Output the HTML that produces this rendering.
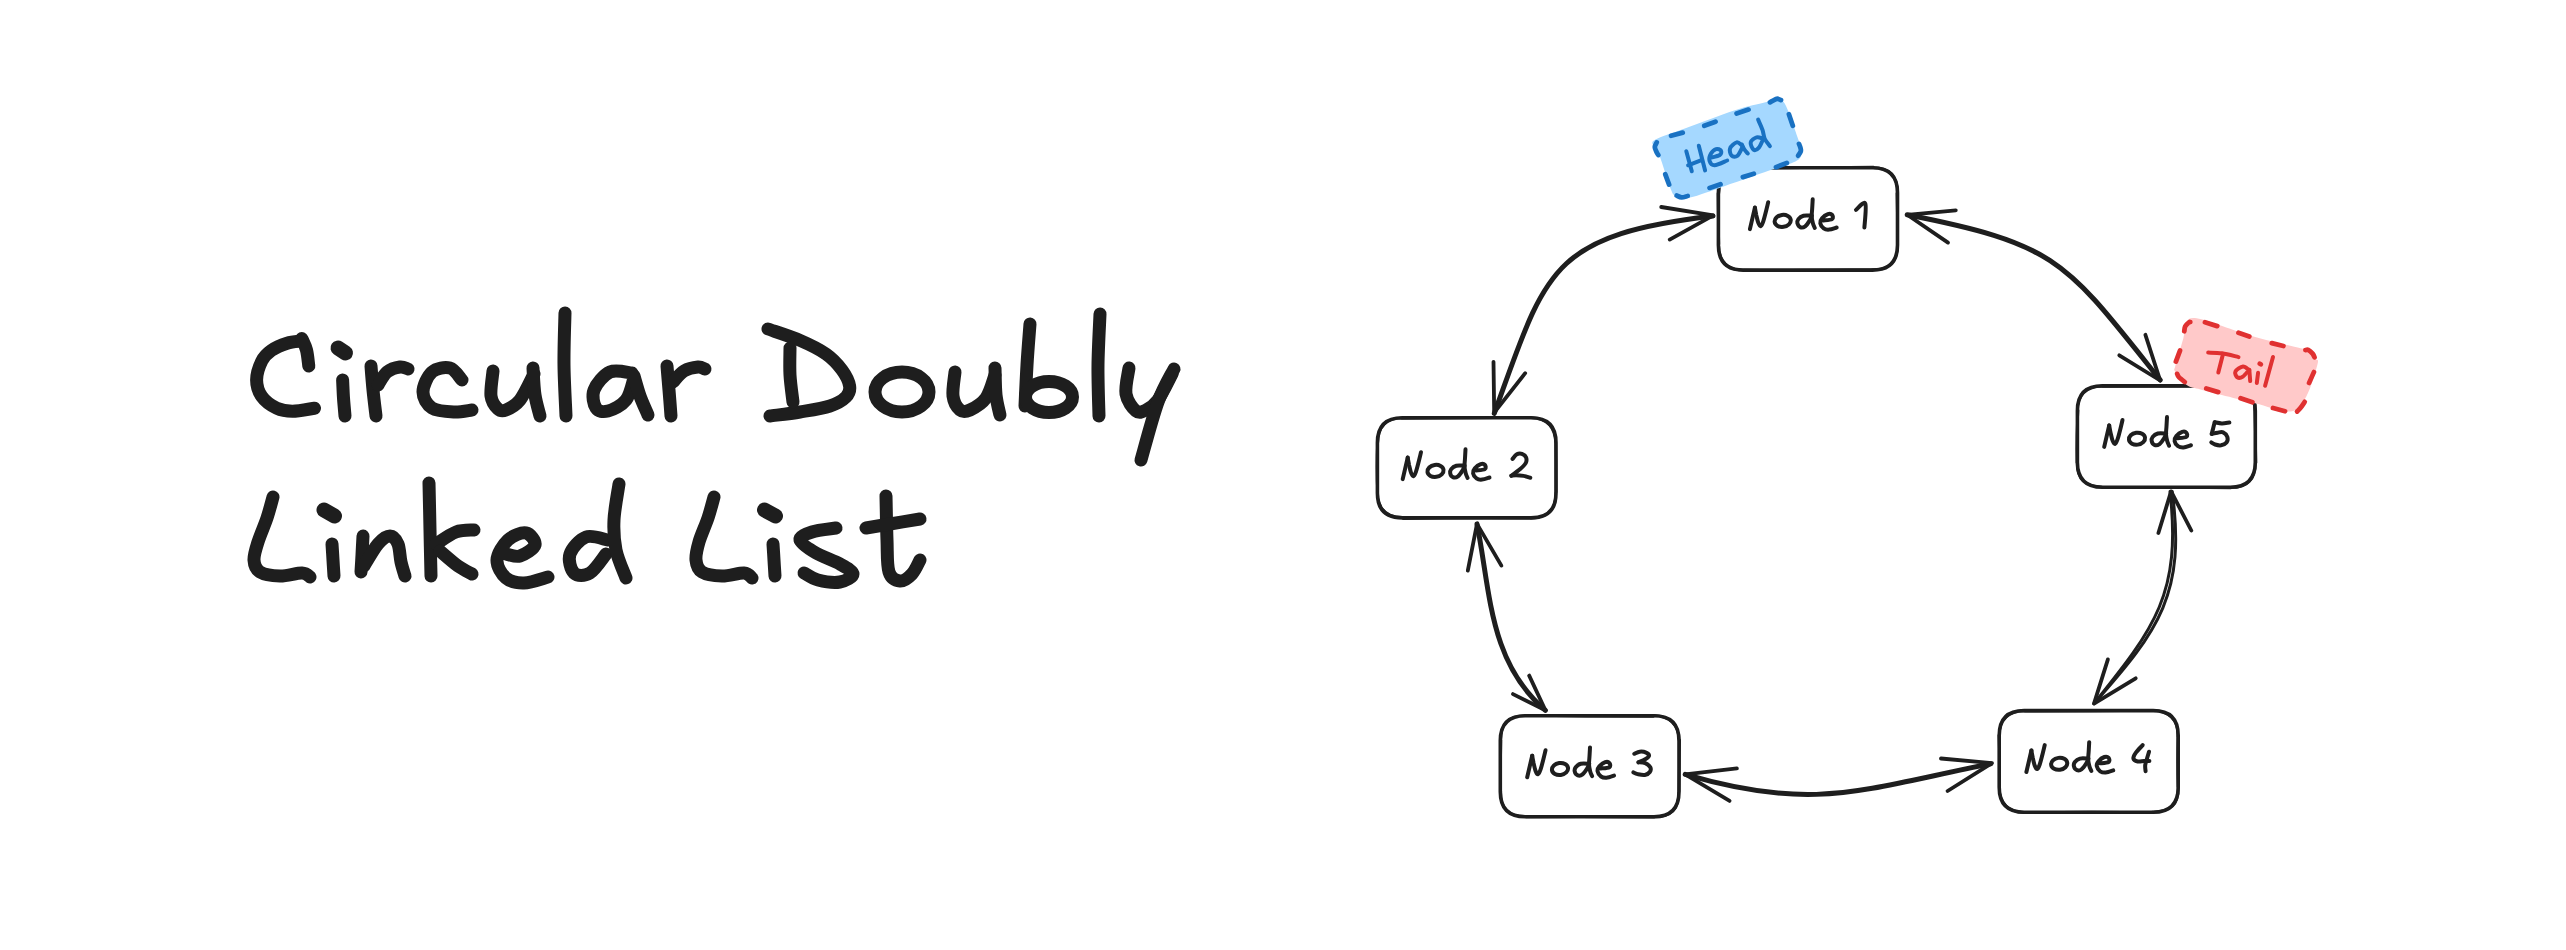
<!DOCTYPE html>
<html><head><meta charset="utf-8"><title>Circular Doubly Linked List</title>
<style>
html,body{margin:0;padding:0;background:#ffffff;}
body{width:2566px;height:950px;overflow:hidden;font-family:"Liberation Sans",sans-serif;}
svg{display:block;}
</style></head><body>
<svg width="2566" height="950" viewBox="0 0 2566 950" fill="none" stroke-linecap="round" stroke-linejoin="round">
<rect x="0" y="0" width="2566" height="950" fill="#ffffff"/>
<path d="M301.8,341.0 C299.4,341.4 292.2,341.6 287.1,343.2 C282.0,344.8 275.5,347.5 271.3,350.5 C267.1,353.5 264.2,356.1 261.8,361.0 C259.4,365.9 256.6,374.1 256.6,380.0 C256.6,385.9 258.5,391.9 261.8,396.6 C265.1,401.3 271.5,405.8 276.6,408.2 C281.7,410.6 286.1,411.3 292.4,411.3 C298.7,411.3 310.8,408.7 314.5,408.2" stroke="#1e1e1e" stroke-width="13.00" />
<path d="M301.8,338.5 C302.6,340.4 305.3,345.4 306.5,350.0 C307.7,354.6 308.4,363.3 308.8,366.0" stroke="#1e1e1e" stroke-width="13.00" />
<path d="M342.6,380.0 C342.8,383.0 343.1,392.0 343.5,398.0 C343.9,404.0 344.8,413.0 345.0,416.0" stroke="#1e1e1e" stroke-width="13.00" />
<path d="M371.0,366.0 C371.3,370.0 372.2,381.7 373.0,390.0 C373.8,398.3 375.5,411.7 376.0,416.0" stroke="#1e1e1e" stroke-width="13.00" />
<path d="M378.0,385.0 C379.5,382.8 383.3,375.0 387.0,372.0 C390.7,369.0 396.5,367.5 400.0,367.0 C403.5,366.5 406.7,368.7 408.0,369.0" stroke="#1e1e1e" stroke-width="13.00" />
<path d="M462.0,380.0 C460.0,378.0 455.0,369.3 450.0,368.0 C445.0,366.7 436.5,368.0 432.0,372.0 C427.5,376.0 423.0,386.0 423.0,392.0 C423.0,398.0 426.8,404.7 432.0,408.0 C437.2,411.3 447.3,411.7 454.0,412.0 C460.7,412.3 469.0,410.3 472.0,410.0" stroke="#1e1e1e" stroke-width="13.00" />
<path d="M493.0,371.0 C492.7,375.2 490.2,389.7 491.0,396.0 C491.8,402.3 495.5,406.7 498.0,409.0 C500.5,411.3 502.3,411.5 506.0,410.0 C509.7,408.5 515.3,406.0 520.0,400.0 C524.7,394.0 531.7,378.3 534.0,374.0" stroke="#1e1e1e" stroke-width="13.00" />
<path d="M533.0,368.0 C533.3,372.5 533.8,387.0 535.0,395.0 C536.2,403.0 539.2,412.5 540.0,416.0" stroke="#1e1e1e" stroke-width="13.00" />
<path d="M565.0,313.0 C564.8,321.7 563.8,347.8 564.0,365.0 C564.2,382.2 565.7,407.5 566.0,416.0" stroke="#1e1e1e" stroke-width="13.00" />
<path d="M632.0,373.0 C628.3,372.8 616.3,369.2 610.0,372.0 C603.7,374.8 596.3,384.0 594.0,390.0 C591.7,396.0 593.7,404.5 596.0,408.0 C598.3,411.5 603.0,412.3 608.0,411.0 C613.0,409.7 621.7,405.5 626.0,400.0 C630.3,394.5 632.7,381.7 634.0,378.0" stroke="#1e1e1e" stroke-width="13.00" />
<path d="M634.0,376.0 C635.0,379.3 637.7,389.5 640.0,396.0 C642.3,402.5 646.7,411.8 648.0,415.0" stroke="#1e1e1e" stroke-width="13.00" />
<path d="M667.0,366.0 C667.3,370.0 668.3,381.7 669.0,390.0 C669.7,398.3 670.7,411.7 671.0,416.0" stroke="#1e1e1e" stroke-width="13.00" />
<path d="M673.0,382.0 C674.8,380.2 679.8,373.5 684.0,371.0 C688.2,368.5 694.5,367.3 698.0,367.0 C701.5,366.7 703.8,368.7 705.0,369.0" stroke="#1e1e1e" stroke-width="13.00" />
<path d="M768.0,329.0 C773.3,330.9 790.3,336.2 800.0,340.4 C809.7,344.6 819.0,349.1 826.0,354.0 C833.0,358.9 838.1,364.7 842.0,370.0 C845.9,375.3 848.9,381.5 849.6,386.0 C850.3,390.5 849.3,393.7 846.0,397.0 C842.7,400.3 837.7,403.5 830.0,406.0 C822.3,408.5 810.0,410.3 800.0,412.0 C790.0,413.7 775.0,415.3 770.0,416.0" stroke="#1e1e1e" stroke-width="13.00" />
<path d="M790.0,348.0 C790.0,352.5 789.5,366.0 790.0,375.0 C790.5,384.0 792.5,397.5 793.0,402.0" stroke="#1e1e1e" stroke-width="13.00" />
<path d="M955.0,372.0 C954.7,376.0 952.2,389.7 953.0,396.0 C953.8,402.3 957.2,407.7 960.0,410.0 C962.8,412.3 965.7,412.0 970.0,410.0 C974.3,408.0 981.8,403.8 986.0,398.0 C990.2,392.2 993.5,378.8 995.0,375.0" stroke="#1e1e1e" stroke-width="13.00" />
<path d="M995.0,368.0 C995.2,372.5 995.2,387.2 996.0,395.0 C996.8,402.8 999.3,411.7 1000.0,415.0" stroke="#1e1e1e" stroke-width="13.00" />
<path d="M1030.0,324.0 C1029.5,330.8 1027.8,351.3 1027.0,365.0 C1026.2,378.7 1025.3,399.2 1025.0,406.0" stroke="#1e1e1e" stroke-width="13.00" />
<path d="M1100.0,314.0 C1099.7,322.5 1098.2,348.0 1098.0,365.0 C1097.8,382.0 1098.8,407.5 1099.0,416.0" stroke="#1e1e1e" stroke-width="13.00" />
<path d="M1129.0,368.0 C1128.5,372.3 1124.8,386.8 1126.0,394.0 C1127.2,401.2 1132.7,408.3 1136.0,411.0 C1139.3,413.7 1142.3,411.8 1146.0,410.0 C1149.7,408.2 1153.7,406.0 1158.0,400.0 C1162.3,394.0 1169.7,378.3 1172.0,374.0" stroke="#1e1e1e" stroke-width="13.00" />
<path d="M1174.0,369.0 C1171.3,374.5 1163.5,386.8 1158.0,402.0 C1152.5,417.2 1143.8,450.3 1141.0,460.0" stroke="#1e1e1e" stroke-width="13.00" />
<path d="M273.0,497.0 C272.0,500.5 269.5,510.5 267.0,518.0 C264.5,525.5 260.2,535.0 258.0,542.0 C255.8,549.0 253.7,555.0 254.0,560.0 C254.3,565.0 255.7,569.3 260.0,572.0 C264.3,574.7 273.0,575.8 280.0,576.0 C287.0,576.2 297.0,572.8 302.0,573.0 C307.0,573.2 308.7,576.3 310.0,577.0" stroke="#1e1e1e" stroke-width="13.00" />
<path d="M332.0,544.0 C332.2,546.7 332.7,554.7 333.0,560.0 C333.3,565.3 333.8,573.3 334.0,576.0" stroke="#1e1e1e" stroke-width="13.00" />
<path d="M363.0,536.0 C362.8,539.2 362.3,549.0 362.0,555.0 C361.7,561.0 361.2,569.2 361.0,572.0" stroke="#1e1e1e" stroke-width="13.00" />
<path d="M364.0,566.0 C366.3,562.3 373.7,549.0 378.0,544.0 C382.3,539.0 386.7,536.0 390.0,536.0 C393.3,536.0 396.2,539.7 398.0,544.0 C399.8,548.3 399.8,556.7 401.0,562.0 C402.2,567.3 404.3,573.7 405.0,576.0" stroke="#1e1e1e" stroke-width="13.00" />
<path d="M429.0,483.0 C429.2,490.8 429.7,514.5 430.0,530.0 C430.3,545.5 430.8,568.3 431.0,576.0" stroke="#1e1e1e" stroke-width="13.00" />
<path d="M436.0,544.0 C439.3,542.0 449.7,534.3 456.0,532.0 C462.3,529.7 471.0,530.3 474.0,530.0" stroke="#1e1e1e" stroke-width="13.00" />
<path d="M440.0,551.0 C443.0,553.5 452.7,562.2 458.0,566.0 C463.3,569.8 469.7,572.7 472.0,574.0" stroke="#1e1e1e" stroke-width="13.00" />
<path d="M506.0,554.0 C508.3,554.3 515.2,557.5 520.0,556.0 C524.8,554.5 534.0,548.8 535.0,545.0 C536.0,541.2 530.5,533.8 526.0,533.0 C521.5,532.2 512.8,535.5 508.0,540.0 C503.2,544.5 497.3,553.7 497.0,560.0 C496.7,566.3 501.5,574.2 506.0,578.0 C510.5,581.8 517.0,583.2 524.0,583.0 C531.0,582.8 544.0,578.0 548.0,577.0" stroke="#1e1e1e" stroke-width="13.00" />
<path d="M608.0,540.0 C604.3,539.5 592.3,534.7 586.0,537.0 C579.7,539.3 572.0,548.0 570.0,554.0 C568.0,560.0 570.7,569.8 574.0,573.0 C577.3,576.2 584.7,576.2 590.0,573.0 C595.3,569.8 603.3,557.2 606.0,554.0" stroke="#1e1e1e" stroke-width="13.00" />
<path d="M619.0,484.0 C618.2,490.0 614.5,509.0 614.0,520.0 C613.5,531.0 614.0,540.3 616.0,550.0 C618.0,559.7 624.3,573.3 626.0,578.0" stroke="#1e1e1e" stroke-width="13.00" />
<path d="M714.0,497.0 C713.0,500.5 710.5,510.5 708.0,518.0 C705.5,525.5 701.0,535.0 699.0,542.0 C697.0,549.0 695.5,555.0 696.0,560.0 C696.5,565.0 697.7,569.3 702.0,572.0 C706.3,574.7 715.0,575.8 722.0,576.0 C729.0,576.2 739.0,572.7 744.0,573.0 C749.0,573.3 750.7,577.2 752.0,578.0" stroke="#1e1e1e" stroke-width="13.00" />
<path d="M773.0,544.0 C773.2,546.7 773.7,554.7 774.0,560.0 C774.3,565.3 774.8,573.3 775.0,576.0" stroke="#1e1e1e" stroke-width="13.00" />
<path d="M836.0,528.0 C832.0,528.7 818.0,530.0 812.0,532.0 C806.0,534.0 799.3,536.5 800.0,540.0 C800.7,543.5 809.3,549.0 816.0,553.0 C822.7,557.0 833.8,560.5 840.0,564.0 C846.2,567.5 853.0,571.0 853.0,574.0 C853.0,577.0 845.8,581.0 840.0,582.0 C834.2,583.0 824.0,581.5 818.0,580.0 C812.0,578.5 806.3,574.2 804.0,573.0" stroke="#1e1e1e" stroke-width="13.00" />
<path d="M886.0,496.0 C886.2,503.3 886.5,527.3 887.0,540.0 C887.5,552.7 886.8,565.2 889.0,572.0 C891.2,578.8 896.2,580.7 900.0,581.0 C903.8,581.3 908.7,577.5 912.0,574.0 C915.3,570.5 918.7,562.3 920.0,560.0" stroke="#1e1e1e" stroke-width="13.00" />
<path d="M866.0,528.0 C870.0,527.3 881.0,525.5 890.0,524.0 C899.0,522.5 915.0,519.8 920.0,519.0" stroke="#1e1e1e" stroke-width="13.00" />
<ellipse cx="902.0" cy="392.0" rx="27.0" ry="20.0" fill="none" stroke="#1e1e1e" stroke-width="13.00" transform="rotate(0.0 902.0 392.0)"/>
<ellipse cx="1049.0" cy="397.0" rx="23.5" ry="15.5" fill="none" stroke="#1e1e1e" stroke-width="13.00" transform="rotate(0.0 1049.0 397.0)"/>
<path d="M338.0,348.0 L345.5,353.0" stroke="#1e1e1e" stroke-width="15.00" />
<path d="M324.0,510.0 L334.5,516.0" stroke="#1e1e1e" stroke-width="15.00" />
<path d="M764.5,510.0 L775.5,516.0" stroke="#1e1e1e" stroke-width="15.00" />
<path d="M1743.4,167.7 L1872.5,167.7 Q1897.5,167.7 1897.5,192.7 L1897.5,245.1 Q1897.5,270.1 1872.5,270.1 L1743.4,270.1 Q1718.4,270.1 1718.4,245.1 L1718.4,192.7 Q1718.4,167.7 1743.4,167.7 Z" fill="none" stroke="#1e1e1e" stroke-width="3.6"/>
<path d="M1743.7,168.4 Q1810.3,167.6 1873.4,167.0 M1873.2,167.6 Q1897.6,167.8 1897.6,193.3 M1896.9,193.2 Q1897.6,220.5 1897.7,244.6 M1897.5,244.8 Q1898.1,270.1 1872.1,269.5 M1872.9,269.5 Q1808.0,270.6 1743.9,270.0 M1744.1,270.3 Q1718.7,270.0 1718.7,244.9 M1718.9,244.3 Q1718.2,217.0 1718.0,193.4 M1718.9,193.2 Q1718.8,166.9 1742.6,168.1" fill="none" stroke="#1e1e1e" stroke-width="2.6"/>
<path d="M1749.9,229.1 L1754.9,207.6" stroke="#1e1e1e" stroke-width="4.00" />
<path d="M1754.9,207.6 C1755.1,208.8 1755.8,212.6 1756.3,215.1 C1756.9,217.6 1757.5,220.8 1758.2,222.6 C1758.9,224.4 1759.8,226.4 1760.6,226.2 C1761.4,226.0 1762.3,224.2 1763.2,221.6 C1764.1,219.0 1765.4,213.8 1766.2,210.6 C1767.0,207.4 1767.9,203.6 1768.2,202.2" stroke="#1e1e1e" stroke-width="4.00" />
<path d="M1811.9,215.7 C1810.5,215.7 1805.8,215.1 1803.5,215.7 C1801.2,216.3 1799.4,217.8 1798.4,219.1 C1797.4,220.4 1797.1,221.9 1797.4,223.3 C1797.8,224.7 1799.2,226.8 1800.5,227.3 C1801.8,227.8 1803.7,227.4 1805.2,226.3 C1806.8,225.1 1808.7,222.2 1809.8,220.4 C1810.9,218.6 1811.6,216.5 1811.9,215.7" stroke="#1e1e1e" stroke-width="4.00" />
<path d="M1812.7,199.3 C1812.6,201.0 1812.3,206.9 1812.1,209.8 C1811.9,212.7 1811.6,214.3 1811.7,216.6 C1811.8,218.8 1812.4,221.4 1812.9,223.3 C1813.4,225.2 1814.5,227.2 1814.8,228.0" stroke="#1e1e1e" stroke-width="4.00" />
<path d="M1823.3,220.4 C1824.8,220.2 1830.6,220.0 1832.1,219.1 C1833.6,218.2 1832.8,215.7 1832.1,214.9 C1831.4,214.1 1829.6,213.5 1827.9,214.1 C1826.2,214.7 1823.3,216.8 1822.0,218.3 C1820.7,219.8 1820.0,221.6 1820.3,223.3 C1820.6,225.0 1822.2,227.3 1823.7,228.4 C1825.2,229.5 1827.0,229.8 1829.2,229.6 C1831.4,229.4 1835.5,227.8 1836.7,227.5" stroke="#1e1e1e" stroke-width="4.00" />
<path d="M1856.0,209.8 C1857.5,208.8 1863.9,200.6 1865.3,203.5 C1866.7,206.4 1864.6,223.5 1864.4,227.5" stroke="#1e1e1e" stroke-width="4.00" /><ellipse cx="1782.7" cy="220.9" rx="8.1" ry="6.0" fill="none" stroke="#1e1e1e" stroke-width="4.00" transform="rotate(-8.0 1782.7 220.9)"/>
<path d="M1402.4,417.7 L1531.0,417.7 Q1556.0,417.7 1556.0,442.7 L1556.0,492.9 Q1556.0,517.9 1531.0,517.9 L1402.4,517.9 Q1377.4,517.9 1377.4,492.9 L1377.4,442.7 Q1377.4,417.7 1402.4,417.7 Z" fill="none" stroke="#1e1e1e" stroke-width="3.6"/>
<path d="M1401.7,418.4 Q1467.6,417.8 1530.4,417.4 M1530.9,417.6 Q1555.0,418.5 1555.7,443.7 M1555.7,442.8 Q1556.2,465.3 1556.1,492.1 M1555.7,492.7 Q1556.8,517.2 1530.8,518.3 M1531.5,517.9 Q1465.0,517.2 1403.3,518.6 M1402.1,517.4 Q1377.7,516.8 1377.5,492.0 M1377.7,493.6 Q1376.2,470.1 1377.5,442.9 M1377.7,443.7 Q1378.4,417.7 1401.8,418.0" fill="none" stroke="#1e1e1e" stroke-width="2.6"/>
<path d="M1402.7,479.1 L1407.7,457.6" stroke="#1e1e1e" stroke-width="4.00" />
<path d="M1407.7,457.6 C1407.9,458.9 1408.6,462.6 1409.1,465.1 C1409.7,467.6 1410.3,470.8 1411.0,472.6 C1411.7,474.5 1412.6,476.4 1413.4,476.2 C1414.2,476.0 1415.1,474.2 1416.0,471.6 C1416.9,469.0 1418.2,463.8 1419.0,460.6 C1419.8,457.4 1420.7,453.6 1421.0,452.2" stroke="#1e1e1e" stroke-width="4.00" />
<path d="M1464.7,465.7 C1463.3,465.7 1458.5,465.1 1456.3,465.7 C1454.0,466.3 1452.2,467.8 1451.2,469.1 C1450.2,470.4 1449.9,471.9 1450.2,473.3 C1450.5,474.7 1452.0,476.8 1453.3,477.3 C1454.6,477.8 1456.5,477.4 1458.0,476.3 C1459.5,475.2 1461.5,472.2 1462.6,470.4 C1463.7,468.6 1464.4,466.5 1464.7,465.7" stroke="#1e1e1e" stroke-width="4.00" />
<path d="M1465.5,449.3 C1465.4,451.1 1465.1,456.9 1464.9,459.8 C1464.7,462.7 1464.4,464.4 1464.5,466.6 C1464.6,468.9 1465.2,471.4 1465.7,473.3 C1466.2,475.2 1467.3,477.2 1467.6,478.0" stroke="#1e1e1e" stroke-width="4.00" />
<path d="M1476.1,470.4 C1477.6,470.2 1483.4,470.0 1484.9,469.1 C1486.4,468.2 1485.6,465.7 1484.9,464.9 C1484.2,464.1 1482.4,463.5 1480.7,464.1 C1479.0,464.7 1476.1,466.8 1474.8,468.3 C1473.5,469.8 1472.8,471.6 1473.1,473.3 C1473.4,475.0 1475.0,477.4 1476.5,478.4 C1478.0,479.5 1479.8,479.8 1482.0,479.6 C1484.2,479.5 1488.2,477.9 1489.5,477.5" stroke="#1e1e1e" stroke-width="4.00" />
<path d="M1512.6,458.9 C1513.3,458.1 1515.2,455.2 1516.8,454.3 C1518.3,453.4 1520.4,453.2 1521.9,453.8 C1523.5,454.4 1525.5,456.1 1526.1,457.6 C1526.7,459.2 1526.7,461.2 1525.7,463.1 C1524.7,465.0 1522.6,466.9 1520.2,469.0 C1517.8,471.1 1512.9,474.6 1511.4,475.7" stroke="#1e1e1e" stroke-width="4.00" />
<path d="M1511.4,475.7 C1512.2,475.6 1514.0,475.3 1516.0,475.3 C1518.0,475.3 1521.2,475.5 1523.6,475.9 C1526.0,476.3 1529.2,477.5 1530.3,477.8" stroke="#1e1e1e" stroke-width="4.00" /><ellipse cx="1435.5" cy="470.9" rx="8.1" ry="6.0" fill="none" stroke="#1e1e1e" stroke-width="4.00" transform="rotate(-8.0 1435.5 470.9)"/>
<path d="M1525.3,715.8 L1654.0,715.8 Q1679.0,715.8 1679.0,740.8 L1679.0,791.7 Q1679.0,816.7 1654.0,816.7 L1525.3,816.7 Q1500.3,816.7 1500.3,791.7 L1500.3,740.8 Q1500.3,715.8 1525.3,715.8 Z" fill="none" stroke="#1e1e1e" stroke-width="3.6"/>
<path d="M1525.2,715.2 Q1590.8,716.6 1653.4,716.5 M1653.1,715.3 Q1678.3,716.4 1679.2,740.5 M1679.7,740.0 Q1679.4,767.3 1678.9,791.2 M1678.6,792.5 Q1679.6,817.3 1653.4,816.9 M1654.5,817.1 Q1587.3,816.2 1526.1,816.9 M1525.6,816.3 Q1500.0,816.9 1500.8,791.4 M1500.3,791.9 Q1500.4,765.7 1501.0,740.4 M1500.7,740.1 Q1501.1,714.9 1524.8,715.7" fill="none" stroke="#1e1e1e" stroke-width="2.6"/>
<path d="M1527.2,777.2 L1532.2,755.7" stroke="#1e1e1e" stroke-width="4.00" />
<path d="M1532.2,755.7 C1532.4,757.0 1533.1,760.7 1533.6,763.2 C1534.2,765.7 1534.8,768.9 1535.5,770.7 C1536.2,772.6 1537.1,774.5 1537.9,774.3 C1538.7,774.1 1539.6,772.3 1540.5,769.7 C1541.4,767.1 1542.7,761.9 1543.5,758.7 C1544.3,755.5 1545.2,751.7 1545.5,750.3" stroke="#1e1e1e" stroke-width="4.00" />
<path d="M1589.2,763.8 C1587.8,763.8 1583.0,763.2 1580.8,763.8 C1578.5,764.4 1576.7,765.9 1575.7,767.2 C1574.7,768.5 1574.4,770.0 1574.7,771.4 C1575.0,772.8 1576.5,774.9 1577.8,775.4 C1579.1,775.9 1581.0,775.6 1582.5,774.4 C1584.0,773.3 1586.0,770.3 1587.1,768.5 C1588.2,766.7 1588.9,764.6 1589.2,763.8" stroke="#1e1e1e" stroke-width="4.00" />
<path d="M1590.0,747.4 C1589.9,749.2 1589.6,755.0 1589.4,757.9 C1589.2,760.8 1588.9,762.5 1589.0,764.7 C1589.1,767.0 1589.7,769.5 1590.2,771.4 C1590.7,773.3 1591.8,775.3 1592.1,776.1" stroke="#1e1e1e" stroke-width="4.00" />
<path d="M1600.6,768.5 C1602.1,768.3 1607.9,768.1 1609.4,767.2 C1610.9,766.3 1610.1,763.8 1609.4,763.0 C1608.7,762.2 1606.9,761.6 1605.2,762.2 C1603.5,762.8 1600.6,764.9 1599.3,766.4 C1598.0,767.9 1597.3,769.7 1597.6,771.4 C1597.9,773.1 1599.5,775.5 1601.0,776.5 C1602.5,777.5 1604.3,777.9 1606.5,777.7 C1608.7,777.6 1612.8,776.0 1614.0,775.6" stroke="#1e1e1e" stroke-width="4.00" />
<path d="M1634.3,753.8 C1635.2,753.5 1637.7,751.9 1639.7,751.7 C1641.7,751.5 1644.6,751.9 1646.1,752.6 C1647.7,753.3 1649.2,754.8 1649.0,755.9 C1648.8,757.0 1647.0,758.2 1645.2,759.3 C1643.5,760.4 1639.6,761.8 1638.5,762.3" stroke="#1e1e1e" stroke-width="4.00" />
<path d="M1638.5,762.3 C1639.6,762.4 1643.2,762.3 1645.2,763.1 C1647.2,763.9 1649.5,765.8 1650.3,767.3 C1651.1,768.8 1650.7,770.7 1649.8,772.0 C1648.9,773.3 1646.8,774.6 1644.8,774.9 C1642.8,775.3 1639.5,774.5 1637.6,774.1 C1635.7,773.7 1634.1,772.7 1633.4,772.4" stroke="#1e1e1e" stroke-width="4.00" /><ellipse cx="1560.0" cy="769.0" rx="8.1" ry="6.0" fill="none" stroke="#1e1e1e" stroke-width="4.00" transform="rotate(-8.0 1560.0 769.0)"/>
<path d="M2024.2,710.6 L2153.2,710.6 Q2178.2,710.6 2178.2,735.6 L2178.2,787.3 Q2178.2,812.3 2153.2,812.3 L2024.2,812.3 Q1999.2,812.3 1999.2,787.3 L1999.2,735.6 Q1999.2,710.6 2024.2,710.6 Z" fill="none" stroke="#1e1e1e" stroke-width="3.6"/>
<path d="M2024.8,711.2 Q2088.7,711.2 2153.3,710.4 M2153.0,710.2 Q2178.9,711.8 2177.7,736.4 M2177.9,736.2 Q2177.2,763.3 2178.0,787.0 M2178.4,788.2 Q2178.5,812.5 2152.4,812.0 M2153.2,812.7 Q2088.9,811.3 2024.8,812.8 M2024.6,812.6 Q1999.8,811.1 1999.4,787.9 M1999.7,787.4 Q1999.8,760.1 1998.9,735.2 M1999.3,735.9 Q1999.4,711.4 2024.3,710.7" fill="none" stroke="#1e1e1e" stroke-width="2.6"/>
<path d="M2026.4,772.0 L2031.4,750.5" stroke="#1e1e1e" stroke-width="4.00" />
<path d="M2031.4,750.5 C2031.6,751.8 2032.3,755.5 2032.8,758.0 C2033.4,760.5 2034.0,763.6 2034.7,765.5 C2035.4,767.4 2036.3,769.3 2037.1,769.1 C2037.9,768.9 2038.8,767.1 2039.7,764.5 C2040.6,761.9 2041.9,756.7 2042.7,753.5 C2043.5,750.3 2044.4,746.5 2044.7,745.1" stroke="#1e1e1e" stroke-width="4.00" />
<path d="M2088.4,758.6 C2087.0,758.6 2082.2,758.0 2080.0,758.6 C2077.8,759.2 2075.9,760.7 2074.9,762.0 C2073.9,763.3 2073.6,764.8 2073.9,766.2 C2074.2,767.6 2075.7,769.7 2077.0,770.2 C2078.3,770.7 2080.2,770.4 2081.7,769.2 C2083.3,768.1 2085.2,765.1 2086.3,763.3 C2087.4,761.5 2088.1,759.4 2088.4,758.6" stroke="#1e1e1e" stroke-width="4.00" />
<path d="M2089.2,742.2 C2089.1,744.0 2088.8,749.8 2088.6,752.7 C2088.4,755.6 2088.1,757.2 2088.2,759.5 C2088.3,761.8 2088.9,764.3 2089.4,766.2 C2089.9,768.1 2091.0,770.1 2091.3,770.9" stroke="#1e1e1e" stroke-width="4.00" />
<path d="M2099.8,763.3 C2101.3,763.1 2107.1,762.9 2108.6,762.0 C2110.1,761.1 2109.3,758.6 2108.6,757.8 C2107.9,757.0 2106.1,756.4 2104.4,757.0 C2102.7,757.6 2099.8,759.7 2098.5,761.2 C2097.2,762.7 2096.5,764.5 2096.8,766.2 C2097.1,767.9 2098.7,770.2 2100.2,771.3 C2101.7,772.3 2103.5,772.6 2105.7,772.5 C2107.9,772.4 2112.0,770.8 2113.2,770.4" stroke="#1e1e1e" stroke-width="4.00" />
<path d="M2142.7,745.1 C2141.6,746.4 2137.5,750.4 2135.9,752.6 C2134.3,754.8 2133.1,757.0 2133.4,758.5 C2133.7,760.0 2135.8,761.1 2137.6,761.5 C2139.3,761.9 2141.9,761.2 2143.9,761.1 C2145.9,761.0 2148.5,761.1 2149.4,761.1" stroke="#1e1e1e" stroke-width="4.00" />
<path d="M2149.0,751.8 C2148.7,753.0 2147.5,756.6 2146.9,758.9 C2146.3,761.1 2145.4,763.2 2145.2,765.3 C2145.0,767.3 2145.5,770.2 2145.6,771.2" stroke="#1e1e1e" stroke-width="4.00" /><ellipse cx="2059.2" cy="763.8" rx="8.1" ry="6.0" fill="none" stroke="#1e1e1e" stroke-width="4.00" transform="rotate(-8.0 2059.2 763.8)"/>
<path d="M2102.4,385.9 L2230.3,385.9 Q2255.3,385.9 2255.3,410.9 L2255.3,462.2 Q2255.3,487.2 2230.3,487.2 L2102.4,487.2 Q2077.4,487.2 2077.4,462.2 L2077.4,410.9 Q2077.4,385.9 2102.4,385.9 Z" fill="none" stroke="#1e1e1e" stroke-width="3.6"/>
<path d="M2102.6,386.5 Q2165.3,386.3 2230.5,386.0 M2230.4,385.6 Q2255.0,386.5 2254.7,411.5 M2254.7,411.0 Q2255.6,438.4 2256.0,462.7 M2255.5,463.0 Q2254.6,488.4 2231.1,487.5 M2230.7,487.9 Q2165.4,487.1 2102.2,487.4 M2101.7,487.0 Q2076.4,486.3 2077.1,462.2 M2076.9,462.8 Q2076.3,434.1 2078.1,410.3 M2077.6,410.0 Q2078.1,385.7 2103.0,386.0" fill="none" stroke="#1e1e1e" stroke-width="2.6"/>
<path d="M2104.2,446.9 L2109.2,425.4" stroke="#1e1e1e" stroke-width="4.00" />
<path d="M2109.2,425.4 C2109.4,426.6 2110.0,430.4 2110.6,432.9 C2111.2,435.4 2111.8,438.5 2112.5,440.4 C2113.2,442.2 2114.1,444.2 2114.9,444.0 C2115.7,443.8 2116.6,442.0 2117.5,439.4 C2118.4,436.8 2119.7,431.6 2120.5,428.4 C2121.3,425.2 2122.2,421.4 2122.5,420.0" stroke="#1e1e1e" stroke-width="4.00" />
<path d="M2166.2,433.5 C2164.8,433.5 2160.0,432.9 2157.8,433.5 C2155.5,434.1 2153.7,435.6 2152.7,436.9 C2151.7,438.2 2151.3,439.7 2151.7,441.1 C2152.0,442.5 2153.5,444.6 2154.8,445.1 C2156.1,445.6 2157.9,445.2 2159.5,444.1 C2161.1,442.9 2163.0,440.0 2164.1,438.2 C2165.2,436.4 2165.8,434.3 2166.2,433.5" stroke="#1e1e1e" stroke-width="4.00" />
<path d="M2167.0,417.1 C2166.9,418.8 2166.6,424.7 2166.4,427.6 C2166.2,430.5 2165.9,432.1 2166.0,434.4 C2166.1,436.6 2166.7,439.2 2167.2,441.1 C2167.7,443.0 2168.8,445.0 2169.1,445.8" stroke="#1e1e1e" stroke-width="4.00" />
<path d="M2177.6,438.2 C2179.1,438.0 2184.9,437.8 2186.4,436.9 C2187.9,436.0 2187.1,433.5 2186.4,432.7 C2185.7,431.9 2183.9,431.3 2182.2,431.9 C2180.5,432.5 2177.6,434.6 2176.3,436.1 C2175.0,437.6 2174.3,439.4 2174.6,441.1 C2174.9,442.8 2176.5,445.1 2178.0,446.2 C2179.5,447.2 2181.3,447.5 2183.5,447.4 C2185.7,447.2 2189.8,445.6 2191.0,445.3" stroke="#1e1e1e" stroke-width="4.00" />
<path d="M2229.4,422.6 C2228.1,422.7 2224.2,423.5 2221.8,423.4 C2219.3,423.3 2215.9,422.4 2214.7,422.2" stroke="#1e1e1e" stroke-width="4.00" />
<path d="M2214.7,422.2 C2214.4,423.3 2213.5,426.9 2213.0,428.9 C2212.5,430.8 2211.9,433.1 2211.7,433.9" stroke="#1e1e1e" stroke-width="4.00" />
<path d="M2211.7,433.9 C2212.7,433.7 2215.7,433.0 2217.6,432.7 C2219.5,432.4 2221.5,431.6 2223.1,432.3 C2224.7,433.0 2226.7,435.2 2227.3,436.9 C2227.9,438.6 2227.6,441.0 2226.5,442.4 C2225.4,443.8 2222.9,444.9 2221.0,445.3 C2219.1,445.6 2216.7,445.0 2215.1,444.5 C2213.5,444.0 2211.9,442.8 2211.3,442.4" stroke="#1e1e1e" stroke-width="4.00" /><ellipse cx="2137.0" cy="438.7" rx="8.1" ry="6.0" fill="none" stroke="#1e1e1e" stroke-width="4.00" transform="rotate(-8.0 2137.0 438.7)"/>
<path d="M1494.3,413.4 C1546.1,270.3 1548.9,235.6 1713.0,216.0" stroke="#1e1e1e" stroke-width="5.00"/>
<path d="M1493.5,361.9 L1494.2,412.7 L1525.2,373.2" stroke="#1e1e1e" stroke-width="3.80" stroke-linejoin="round"/>
<path d="M1661.2,207.0 L1713.3,215.4 L1669.7,239.6" stroke="#1e1e1e" stroke-width="3.80" stroke-linejoin="round"/>
<path d="M1907.2,214.8 C2059.1,244.7 2065.3,261.1 2160.2,380.0" stroke="#1e1e1e" stroke-width="5.00"/>
<path d="M1955.8,210.3 L1907.2,214.8 L1948.0,242.6" stroke="#1e1e1e" stroke-width="3.80" stroke-linejoin="round"/>
<path d="M2145.4,334.8 L2160.2,380.5 L2119.3,355.3" stroke="#1e1e1e" stroke-width="3.80" stroke-linejoin="round"/>
<path d="M2170.0,491.4 C2181.5,593.5 2155.0,627.5 2094.0,703.6" stroke="#1e1e1e" stroke-width="3.0"/>
<path d="M2172.2,491.4 C2185.9,593.5 2159.4,629.7 2094.0,703.6" stroke="#1e1e1e" stroke-width="3.0"/>
<path d="M2158.4,533.0 L2171.1,491.4 L2191.3,530.5" stroke="#1e1e1e" stroke-width="3.80" stroke-linejoin="round"/>
<path d="M2107.9,659.4 L2094.0,703.6 L2135.7,678.3" stroke="#1e1e1e" stroke-width="3.80" stroke-linejoin="round"/>
<path d="M1685.2,774.4 C1814.4,812.3 1860.6,789.7 1990.7,763.8" stroke="#1e1e1e" stroke-width="5.00"/>
<path d="M1736.9,768.4 L1685.2,774.4 L1729.6,800.9" stroke="#1e1e1e" stroke-width="3.80" stroke-linejoin="round"/>
<path d="M1941.0,758.5 L1992.0,763.1 L1947.6,791.0" stroke="#1e1e1e" stroke-width="3.80" stroke-linejoin="round"/>
<path d="M1477.0,523.9 C1490.5,591.5 1488.8,662.0 1545.4,710.3" stroke="#1e1e1e" stroke-width="5.00"/>
<path d="M1467.8,570.7 L1477.0,523.9 L1501.4,565.6" stroke="#1e1e1e" stroke-width="3.80" stroke-linejoin="round"/>
<path d="M1529.2,675.6 L1545.4,710.3 L1513.0,694.1" stroke="#1e1e1e" stroke-width="3.80" stroke-linejoin="round"/>
<path d="M1655.5,139.5 C1660.7,136.6 1671.5,133.4 1684.8,128.5 C1698.0,123.6 1721.6,114.6 1735.0,110.2 C1748.4,105.8 1758.3,104.2 1765.4,102.3 C1772.5,100.3 1774.1,97.9 1777.5,98.5 C1780.9,99.1 1782.7,99.5 1786.0,106.0 C1789.3,112.5 1795.0,130.1 1797.6,137.4 C1800.2,144.7 1801.6,146.2 1801.5,150.0 C1801.4,153.8 1802.4,157.1 1797.0,160.5 C1791.6,163.9 1781.2,166.3 1769.2,170.6 C1757.2,174.8 1738.2,181.5 1725.0,186.0 C1711.8,190.5 1698.2,195.9 1690.0,197.5 C1681.8,199.1 1679.2,196.9 1676.0,195.5 C1672.8,194.1 1673.5,195.8 1670.8,189.2 C1668.0,182.6 1662.4,162.9 1659.5,155.7 C1656.6,148.5 1654.2,148.7 1653.5,146.0 C1652.8,143.3 1650.3,142.4 1655.5,139.5 Z" fill="#a5d8ff" stroke="none"/>
<path d="M1656.7,142.5 C1656.3,143.3 1654.8,145.4 1654.8,147.0 C1654.8,148.6 1655.9,150.6 1656.5,152.0 C1657.1,153.4 1658.1,154.6 1658.4,155.1" stroke="#1971c2" stroke-width="4.80"/>
<path d="M1671.1,135.8 L1682.7,132.6" stroke="#1971c2" stroke-width="4.80"/>
<path d="M1704.3,125.8 L1715.5,121.7" stroke="#1971c2" stroke-width="4.80"/>
<path d="M1736.6,113.6 L1748.5,109.6" stroke="#1971c2" stroke-width="4.80"/>
<path d="M1770.0,102.3 C1771.1,101.7 1775.0,99.2 1776.8,98.8 C1778.6,98.4 1780.3,99.9 1781.0,100.1" stroke="#1971c2" stroke-width="4.80"/>
<path d="M1788.9,114.2 L1792.8,125.8" stroke="#1971c2" stroke-width="4.80"/>
<path d="M1799.0,143.9 C1799.3,144.6 1800.2,146.8 1800.5,148.0 C1800.8,149.2 1801.2,150.0 1800.8,151.3 C1800.4,152.6 1798.6,155.0 1798.1,155.7" stroke="#1971c2" stroke-width="4.80"/>
<path d="M1786.8,162.9 L1776.0,167.2" stroke="#1971c2" stroke-width="4.80"/>
<path d="M1753.8,173.8 L1742.9,177.1" stroke="#1971c2" stroke-width="4.80"/>
<path d="M1720.5,184.2 L1709.6,187.9" stroke="#1971c2" stroke-width="4.80"/>
<path d="M1687.7,196.0 C1686.6,196.2 1683.4,197.5 1681.6,197.4 C1679.8,197.3 1677.5,195.9 1676.7,195.6" stroke="#1971c2" stroke-width="4.80"/>
<path d="M1669.1,184.6 L1665.3,174.3" stroke="#1971c2" stroke-width="4.80"/>
<path d="M1686.3,151.3 L1691.8,171.2" stroke="#1971c2" stroke-width="4.00" />
<path d="M1698.8,145.7 L1705.1,170.4" stroke="#1971c2" stroke-width="4.00" />
<path d="M1688.1,165.3 L1701.4,160.1" stroke="#1971c2" stroke-width="4.00" />
<path d="M1710.2,157.9 C1711.8,157.4 1718.0,156.2 1719.8,155.0 C1721.6,153.8 1721.5,151.5 1720.9,150.5 C1720.3,149.5 1717.8,148.6 1716.1,149.1 C1714.4,149.6 1712.1,151.6 1711.0,153.5 C1709.9,155.4 1708.9,158.8 1709.5,160.8 C1710.1,162.8 1711.6,165.4 1714.6,165.3 C1717.5,165.2 1725.1,161.3 1727.2,160.5" stroke="#1971c2" stroke-width="4.00" />
<path d="M1741.9,145.4 C1741.0,144.9 1738.7,141.9 1736.7,142.4 C1734.7,142.9 1730.9,146.1 1730.1,148.3 C1729.2,150.5 1730.4,154.5 1731.6,155.7 C1732.8,156.9 1735.7,157.2 1737.5,155.7 C1739.3,154.2 1741.8,148.3 1742.6,146.8" stroke="#1971c2" stroke-width="4.00" />
<path d="M1741.9,144.6 C1742.3,145.3 1743.1,147.6 1744.1,149.1 C1745.1,150.6 1747.2,152.8 1747.8,153.5" stroke="#1971c2" stroke-width="4.00" />
<path d="M1763.3,138.7 C1762.2,138.5 1758.7,136.7 1756.6,137.3 C1754.5,137.9 1751.2,140.3 1750.7,142.4 C1750.2,144.5 1752.3,148.9 1753.7,149.8 C1755.1,150.7 1757.3,149.4 1758.9,147.6 C1760.5,145.8 1762.6,140.2 1763.3,138.7" stroke="#1971c2" stroke-width="4.00" />
<path d="M1758.1,119.6 C1758.8,121.3 1761.4,126.7 1762.5,129.9 C1763.6,133.1 1763.5,136.0 1764.7,138.7 C1765.9,141.4 1769.0,144.9 1769.9,146.1" stroke="#1971c2" stroke-width="4.00" />
<path d="M2183.3,338.4 C2185.1,331.8 2183.8,329.4 2186.0,326.0 C2188.2,322.6 2185.5,316.5 2196.6,318.2 C2207.7,319.9 2235.3,331.2 2252.6,336.2 C2269.9,341.2 2291.5,345.9 2300.6,348.2 C2309.7,350.5 2304.6,348.3 2307.0,350.0 C2309.4,351.7 2313.4,356.1 2315.2,358.5 C2316.9,360.9 2319.0,358.0 2317.5,364.3 C2316.0,370.6 2310.8,388.5 2306.3,396.4 C2301.8,404.3 2299.0,410.4 2290.5,411.5 C2282.0,412.6 2266.6,406.0 2255.2,403.3 C2243.8,400.6 2230.9,397.4 2221.8,395.1 C2212.7,392.8 2206.2,391.1 2200.4,389.4 C2194.6,387.7 2190.9,387.9 2186.7,385.0 C2182.5,382.1 2177.3,375.2 2175.4,372.0 C2173.5,368.8 2174.1,371.2 2175.4,365.6 C2176.7,360.0 2181.5,345.0 2183.3,338.4 Z" fill="#ffc9c9" stroke="none"/>
<path d="M2184.3,331.2 C2184.5,330.4 2184.4,327.9 2185.2,326.4 C2186.0,324.9 2188.1,323.0 2189.0,322.3 C2189.9,321.6 2190.1,322.1 2190.3,322.1" stroke="#e03131" stroke-width="4.80"/>
<path d="M2205.0,322.3 L2217.2,326.1" stroke="#e03131" stroke-width="4.80"/>
<path d="M2238.5,332.8 L2249.3,336.5" stroke="#e03131" stroke-width="4.80"/>
<path d="M2271.8,343.1 L2283.4,346.0" stroke="#e03131" stroke-width="4.80"/>
<path d="M2305.4,350.1 C2305.9,350.1 2307.0,349.2 2308.2,349.8 C2309.4,350.4 2311.5,352.3 2312.6,353.6 C2313.7,354.9 2314.2,356.7 2314.5,357.3" stroke="#e03131" stroke-width="4.80"/>
<path d="M2313.9,372.1 L2309.1,382.9" stroke="#e03131" stroke-width="4.80"/>
<path d="M2304.7,401.9 C2303.9,403.0 2301.3,407.0 2300.0,408.6 C2298.7,410.2 2297.6,411.0 2297.1,411.5" stroke="#e03131" stroke-width="4.80"/>
<path d="M2285.0,411.2 L2273.0,408.0" stroke="#e03131" stroke-width="4.80"/>
<path d="M2252.4,402.3 L2240.6,398.3" stroke="#e03131" stroke-width="4.80"/>
<path d="M2218.2,392.1 L2206.3,388.5" stroke="#e03131" stroke-width="4.80"/>
<path d="M2184.8,382.0 C2183.8,381.2 2180.2,378.4 2178.9,377.1 C2177.6,375.8 2177.4,374.5 2177.2,373.9" stroke="#e03131" stroke-width="4.80"/>
<path d="M2175.9,361.6 L2180.0,350.6" stroke="#e03131" stroke-width="4.80"/>
<path d="M2208.2,352.6 C2210.5,352.7 2217.0,352.6 2222.1,353.3 C2227.2,354.1 2235.8,356.5 2238.5,357.1" stroke="#e03131" stroke-width="4.00" />
<path d="M2222.7,355.2 L2218.3,372.5" stroke="#e03131" stroke-width="4.00" />
<path d="M2249.3,370.3 C2248.2,369.7 2245.3,366.3 2243.0,366.5 C2240.7,366.7 2236.3,369.8 2235.4,371.6 C2234.5,373.4 2236.1,376.5 2237.3,377.3 C2238.6,378.1 2241.0,377.8 2242.9,376.6 C2244.8,375.4 2247.7,371.4 2248.6,370.3" stroke="#e03131" stroke-width="4.00" />
<path d="M2249.3,369.7 L2250.2,381.1" stroke="#e03131" stroke-width="4.00" />
<path d="M2258.1,372.8 L2256.8,383.0" stroke="#e03131" stroke-width="4.00" />
<path d="M2273.0,357.0 L2265.1,385.8" stroke="#e03131" stroke-width="4.00" />
<ellipse cx="2260.3" cy="364.0" rx="3.0" ry="2.4" fill="#e03131" stroke="none" transform="rotate(30.0 2260.3 364.0)"/>
</svg>
</body></html>
